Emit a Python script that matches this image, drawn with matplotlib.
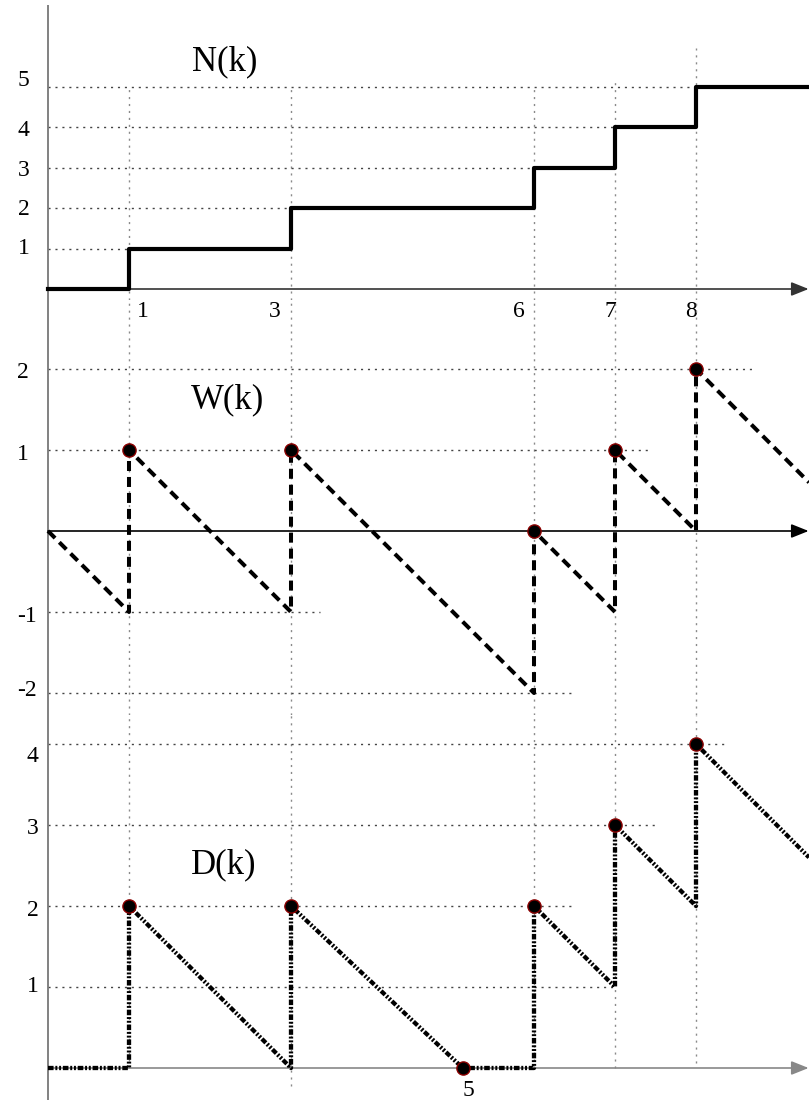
import matplotlib
matplotlib.use('Agg')
import matplotlib.pyplot as plt

plt.rcParams['font.family'] = ['Liberation Serif', 'DejaVu Serif']
plt.rcParams['lines.scale_dashes'] = False

# ---- data ----
k_end = 9.395                      # right edge of the drawing
arrivals = [1, 3, 6, 7, 8]

n_k = [0, 1, 3, 6, 7, 8, k_end]
n_v = [0, 1, 2, 3, 4, 5, 5]

w_k = [0, 1, 1, 3, 3, 6, 6, 7, 7, 8, 8, k_end]
w_v = [0, -1, 1, -1, 1, -2, 0, -1, 1, 0, 2, 0.6]
w_dot_k = [1, 3, 6, 7, 8]
w_dot_v = [1, 1, 0, 1, 2]

d_k = [0, 1, 1, 3, 3, 5.12, 6, 6, 7, 7, 8, 8, k_end]
d_v = [0, 0, 2, 0, 2, 0, 0, 2, 1, 3, 2, 4, 2.6]
d_dot_k = [1, 3, 5.12, 6, 7, 8]
d_dot_v = [2, 2, 0, 2, 3, 4]

n_ticks = [1, 2, 3, 4, 5]
w_ticks = [2, 1, -1, -2]
d_ticks = [1, 2, 3, 4]
k_ticks = [1, 3, 6, 7, 8]

# grid line extents (k where the dotted horizontals stop)
w_grid_end = [8.73, 7.46, 3.36, 6.47]
d_grid_end = [6.98, 6.47, 7.49, 8.36]
vgrid_top_n = [5, 5, 5, 5.2, 5.97]
vgrid_bot_d = [0, -0.22, 0, 0, 0.06]

# ---- layout (pixels) ----
W, H = 809, 1103
X0, UX = 48, 81

fig = plt.figure(figsize=(W / 100, H / 100), dpi=100)


def panel(top, bottom, y0, unit):
    ax = fig.add_axes([0, 1 - bottom / H, 1, (bottom - top) / H])
    ax.set_xlim(-X0 / UX, (W - X0) / UX)
    ax.set_ylim((y0 - bottom) / unit, (y0 - top) / unit)
    ax.axis('off')
    return ax


axN = panel(0, 300, 289, 40.4)
axW = panel(300, 715, 531, 81)
axD = panel(715, 1103, 1068, 81)

dotted = (0, (1.5, 3.5))
hcol, vcol = '#444444', '#8a8a8a'

# vertical dotted grid through all panels
for i, k in enumerate(k_ticks):
    axN.vlines(k, axN.get_ylim()[0], vgrid_top_n[i], colors=vcol, lw=1, linestyles=dotted)
    axW.vlines(k, *axW.get_ylim(), colors=vcol, lw=1, linestyles=dotted)
    axD.vlines(k, vgrid_bot_d[i], axD.get_ylim()[1], colors=vcol, lw=1, linestyles=dotted)

# horizontal dotted grid
axN.hlines(n_ticks, 0, arrivals, colors=hcol, lw=1, linestyles=dotted)
axW.hlines(w_ticks, 0, w_grid_end, colors=hcol, lw=1, linestyles=dotted)
axD.hlines(d_ticks, 0, d_grid_end, colors=hcol, lw=1, linestyles=dotted)

# vertical axis
axN.vlines(0, axN.get_ylim()[0], 7.03, colors='#777777', lw=1.3)
axW.vlines(0, *axW.get_ylim(), colors='#777777', lw=1.3)
axD.vlines(0, -0.395, axD.get_ylim()[1], colors='#777777', lw=1.3)

# horizontal axes with arrow heads
for ax, c in [(axN, '#333333'), (axW, '#000000'), (axD, '#888888')]:
    ax.annotate('', xy=(k_end - 0.005, 0), xytext=(0, 0),
                arrowprops=dict(arrowstyle='-|>,head_length=0.75,head_width=0.3',
                                color=c, lw=1.2, shrinkA=0, shrinkB=0,
                                mutation_scale=14), zorder=2)

# N(k) staircase
axN.plot(n_k, n_v, drawstyle='steps-post', color='black', lw=3, zorder=3)

# W(k) dashed
axW.plot(w_k, w_v, color='black', lw=2.9, dashes=(7.2, 4.3),
         solid_capstyle='butt', dash_capstyle='butt', zorder=3)
axW.plot(w_dot_k, w_dot_v, 'o', ms=9.5, mfc='black', mec='#8b0000', mew=1, zorder=4)

# D(k) dash-dot-dot
axD.plot(d_k, d_v, color='black', lw=3.1, dashes=(4.0, 1.3, 1.4, 1.3, 1.4, 1.3),
         dash_capstyle='butt', zorder=3)
axD.plot(d_dot_k, d_dot_v, 'o', ms=9.5, mfc='black', mec='#8b0000', mew=1, zorder=4)

# titles
axN.text(2.185, 5.62, 'N(k)', fontsize=25, ha='center', va='center')
axW.text(2.22, 1.62, 'W(k)', fontsize=25, ha='center', va='center')
axD.text(2.17, 2.51, 'D(k)', fontsize=25, ha='center', va='center')

# y tick labels (pixel nudges to follow the reference)
fs = 17
n_nudge = [0, 1, 3, 3, -7]
w_nudge = [3, 4, 4, -3]
d_nudge = [0, 4, 3, 13]
for v, dy in zip(n_ticks, n_nudge):
    axN.annotate(str(v), xy=(0, v), xytext=(-30, -dy), textcoords='offset pixels',
                 ha='left', va='center', fontsize=fs)
for v, dy in zip(w_ticks, w_nudge):
    axW.annotate(str(v), xy=(0, v), xytext=(-31, -dy), textcoords='offset pixels',
                 ha='left', va='center', fontsize=fs)
for v, dy in zip(d_ticks, d_nudge):
    axD.annotate(str(v), xy=(0, v), xytext=(-21, -dy), textcoords='offset pixels',
                 ha='left', va='center', fontsize=fs)

# k labels under the N axis
k_dx = [14, -16, -15, -5, -5]
for k, dx in zip(k_ticks, k_dx):
    axN.annotate(str(k), xy=(k, 0), xytext=(dx, -22), textcoords='offset pixels',
                 ha='center', va='center', fontsize=fs)
axD.annotate('5', xy=(d_dot_k[2], 0), xytext=(6, -22), textcoords='offset pixels',
             ha='center', va='center', fontsize=fs)

fig.savefig('out.png', dpi=100)
